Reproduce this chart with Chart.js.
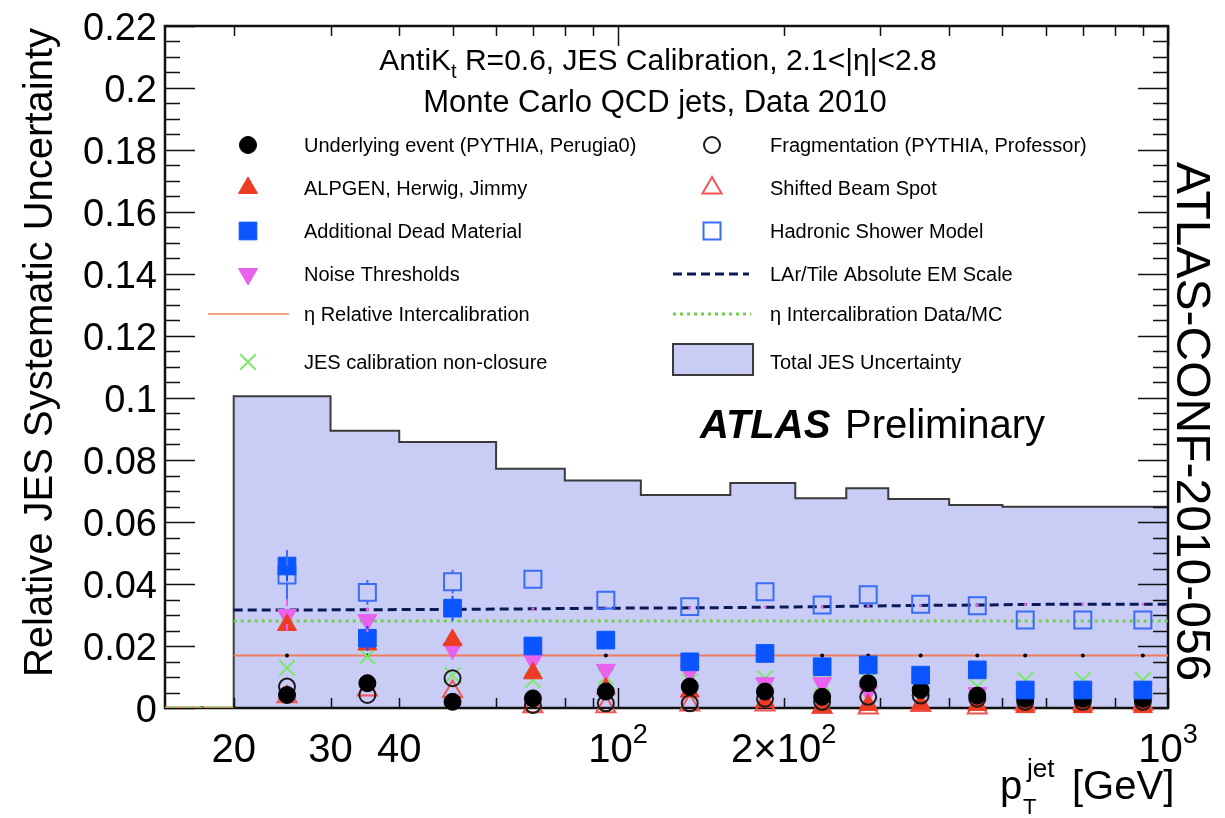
<!DOCTYPE html>
<html>
<head>
<meta charset="utf-8">
<title>Relative JES Systematic Uncertainty</title>
<script src="https://cdn.jsdelivr.net/npm/chart.js@4.4.1/dist/chart.umd.min.js"></script>
<style>
  html, body { margin: 0; padding: 0; background: #fff; }
  #wrap { width: 1225px; height: 818px; }
</style>
</head>
<body>
<div id="wrap"><canvas id="jes" width="1225" height="818"></canvas></div>
<script>
// values (2.1 < |eta| < 2.8, R=0.6)
const ptBins = [25, 35, 50, 70, 95, 135, 185, 235, 285, 355, 450, 550, 700, 900];

const underlyingEvent = [0.0042, 0.0080, 0.0020, 0.0031, 0.0053, 0.0069, 0.0053, 0.0036, 0.0080, 0.0058, 0.0040, 0.0030, 0.0030, 0.0030];
const fragmentation   = [0.0069, 0.0042, 0.0096, 0.0010, 0.0015, 0.0015, 0.0030, 0.0020, 0.0036, 0.0040, 0.0030, 0.0020, 0.0020, 0.0020];
const alpgenHerwig    = [0.0268, 0.0205, 0.0219, 0.0112, 0.0063, 0.0053, 0.0020, 0.0004, 0.0010, 0.0012, 0.0010, 0.0003, 0.0003, 0.0003];
const beamSpot        = [0.0036, 0.0058, 0.0053, 0.0004, 0.0004, 0.0010, 0.0010, 0.0002, 0.0000, 0.0008, 0.0000, 0.0012, 0.0012, 0.0012];
const deadMaterial    = [0.0458, 0.0225, 0.0322, 0.0200, 0.0219, 0.0149, 0.0176, 0.0133, 0.0139, 0.0106, 0.0123, 0.0058, 0.0058, 0.0058];
const hadronicShower  = [0.0429, 0.0373, 0.0407, 0.0415, 0.0348, 0.0327, 0.0375, 0.0332, 0.0365, 0.0335, 0.0330, 0.0284, 0.0284, 0.0284];
const noiseThresholds = [0.0300, 0.0284, 0.0192, 0.0155, 0.0123, 0.0117, 0.0080, 0.0080, 0.0053, 0.0080, 0.0048, 0.0060, 0.0060, 0.0060];
const nonClosure      = [0.0129, 0.0166, 0.0106, 0.0090, 0.0101, 0.0085, 0.0096, 0.0080, 0.0090, 0.0080, 0.0069, 0.0090, 0.0090, 0.0090];
const larTileEM       = [0.0316, 0.0317, 0.0318, 0.0320, 0.0322, 0.0323, 0.0325, 0.0327, 0.0329, 0.0331, 0.0332, 0.0334, 0.0335, 0.0335];
const etaRelInter     = [0.0169, 0.0169, 0.0169, 0.0169, 0.0169, 0.0169, 0.0169, 0.0169, 0.0169, 0.0169, 0.0169, 0.0169, 0.0169, 0.0169];
const etaInterDataMC  = [0.0281, 0.0281, 0.0281, 0.0281, 0.0281, 0.0281, 0.0281, 0.0281, 0.0281, 0.0281, 0.0281, 0.0281, 0.0281, 0.0281];

// statistical error bars that are visible on a few points
const deadMaterialErr   = [0.0050, 0.0040, 0.0040, 0.0010, 0.0010, 0, 0, 0, 0, 0, 0, 0, 0, 0];
const hadronicShowerErr = [0.0080, 0.0040, 0.0038, 0.0010, 0.0010, 0, 0, 0, 0, 0, 0, 0, 0, 0];
const noiseErr          = [0.0050, 0.0040, 0.0030, 0.0020, 0.0010, 0, 0, 0, 0, 0, 0, 0, 0, 0];

// total uncertainty histogram (bin low edges + last upper edge)
const histEdges = [20, 30, 40, 60, 80, 110, 160, 210, 260, 310, 400, 500, 1000];
const totalJES  = [0.1006, 0.0894, 0.0858, 0.0772, 0.0734, 0.0687, 0.0726, 0.0677, 0.0709, 0.0674, 0.0655, 0.0649];

// underflow bin (15-20 GeV) of the eta histograms
const underflowPt = 17.5;
const underflowVal = 0;

// axes
const xMin = 15, xMax = 1000;
const yMin = 0, yMax = 0.22;
const yTickValues = [0, 0.02, 0.04, 0.06, 0.08, 0.1, 0.12, 0.14, 0.16, 0.18, 0.2, 0.22];
const yTickLabels = ['0', '0.02', '0.04', '0.06', '0.08', '0.1', '0.12', '0.14', '0.16', '0.18', '0.2', '0.22'];
const yMinorStep = 0.005;
const xMinorTicks = [20, 30, 40, 50, 60, 70, 80, 90, 200, 300, 400, 500, 600, 700, 800, 900];
const xMajorTicks = [100, 1000];
const xLabelValues = [20, 30, 40, 100, 200, 1000];
const xLabelBase   = ['20', '30', '40', '10', '2×10', '10'];
const xLabelSup    = ['', '', '', '2', '2', '3'];

const legendLeft  = ['Underlying event (PYTHIA, Perugia0)', 'ALPGEN, Herwig, Jimmy', 'Additional Dead Material',
                     'Noise Thresholds', 'η Relative Intercalibration', 'JES calibration non-closure'];
const legendRight = ['Fragmentation (PYTHIA, Professor)', 'Shifted Beam Spot', 'Hadronic Shower Model',
                     'LAr/Tile Absolute EM Scale', 'η Intercalibration Data/MC', 'Total JES Uncertainty'];

const FONT = '"Liberation Sans", Arial, Helvetica, sans-serif';

// colours
const C = {
    fill: '#c9cdf6', histLine: '#3a3a3a',
    red: '#ee3b24', redOpen: '#f25555',
    blue: '#0a55ff', blueOpen: '#3a6cf5',
    magenta: '#e962ee', green: '#7ce86a',
    navy: '#0b1a55', dotGreen: '#6fd04a', orange: '#f07a5a'
};

function pts(values) {
    return ptBins.map((x, i) => ({ x: x, y: values[i] }));
}

function spanLine(values) {
    // lines run across the whole 20-1000 GeV range
    return [{ x: histEdges[0], y: values[0] }].concat(pts(values), [{ x: xMax, y: values[values.length - 1] }]);
}

function withUnderflow(values) {
    return [{ x: xMin, y: underflowVal }, { x: underflowPt, y: underflowVal }, { x: histEdges[0], y: underflowVal },
            { x: histEdges[0], y: null }].concat(spanLine(values));
}

function histData() {
    const d = [{ x: histEdges[0], y: 0 }];
    totalJES.forEach((v, i) => d.push({ x: histEdges[i], y: v }));
    d.push({ x: histEdges[histEdges.length - 1], y: totalJES[totalJES.length - 1] });
    return d;
}

const dotAtBins = (r) => (ctx) => {
    const raw = ctx.raw;
    if (!raw) return 0;
    return (ptBins.includes(raw.x) || raw.x === underflowPt) ? r : 0;
};

function marker(label, values, style, errors) {
    return Object.assign({
        label: label,
        data: pts(values),
        showLine: false,
        clip: false,
        order: 0,
        errorBars: errors || null
    }, style);
}

const markerStyles = {
    ue:     { pointStyle: 'circle',   pointRadius: 8.5, backgroundColor: '#000', borderColor: '#000', borderWidth: 1 },
    frag:   { pointStyle: 'circle',   pointRadius: 8,   backgroundColor: 'rgba(0,0,0,0)', borderColor: '#1a1a1a', borderWidth: 2 },
    alpgen: { pointStyle: 'triangle', pointRadius: 11,  backgroundColor: C.red, borderColor: C.red, borderWidth: 1 },
    beam:   { pointStyle: 'triangle', pointRadius: 11,  backgroundColor: 'rgba(0,0,0,0)', borderColor: C.redOpen, borderWidth: 2 },
    dead:   { pointStyle: 'rect',     pointRadius: 12.5, backgroundColor: C.blue, borderColor: C.blue, borderWidth: 1 },
    had:    { pointStyle: 'rect',     pointRadius: 12,  backgroundColor: 'rgba(0,0,0,0)', borderColor: C.blueOpen, borderWidth: 2 },
    noise:  { pointStyle: 'triangle', pointRadius: 11,  pointRotation: 180, backgroundColor: C.magenta, borderColor: C.magenta, borderWidth: 1 },
    nonclo: { pointStyle: 'crossRot', pointRadius: 11,  backgroundColor: C.green, borderColor: C.green, borderWidth: 2 }
};

const datasets = [
    {
        label: 'Total JES Uncertainty',
        data: histData(),
        showLine: true,
        stepped: 'before',
        fill: 'origin',
        backgroundColor: C.fill,
        borderColor: C.histLine,
        borderWidth: 2,
        pointRadius: 0,
        order: 10
    },
    {
        label: 'LAr/Tile Absolute EM Scale',
        data: spanLine(larTileEM),
        showLine: true,
        borderColor: C.navy,
        borderWidth: 3,
        borderDash: [9, 5],
        pointRadius: dotAtBins(1.5),
        pointBackgroundColor: C.magenta,
        pointBorderWidth: 0,
        order: 5
    },
    {
        label: 'η Intercalibration Data/MC',
        data: withUnderflow(etaInterDataMC),
        showLine: true,
        spanGaps: false,
        borderColor: C.dotGreen,
        borderWidth: 3,
        borderDash: [3, 4],
        pointRadius: 0,
        order: 5
    },
    {
        label: 'η Relative Intercalibration',
        data: withUnderflow(etaRelInter),
        showLine: true,
        spanGaps: false,
        borderColor: C.orange,
        borderWidth: 2,
        pointRadius: dotAtBins(2),
        pointBackgroundColor: '#000',
        pointBorderWidth: 0,
        order: 5
    },
    marker('Additional Dead Material', deadMaterial, markerStyles.dead, deadMaterialErr),
    marker('Hadronic Shower Model', hadronicShower, markerStyles.had, hadronicShowerErr),
    marker('Underlying event (PYTHIA, Perugia0)', underlyingEvent, markerStyles.ue),
    marker('Fragmentation (PYTHIA, Professor)', fragmentation, markerStyles.frag),
    marker('ALPGEN, Herwig, Jimmy', alpgenHerwig, markerStyles.alpgen),
    marker('Shifted Beam Spot', beamSpot, markerStyles.beam),
    marker('Noise Thresholds', noiseThresholds, markerStyles.noise, noiseErr),
    marker('JES calibration non-closure', nonClosure, markerStyles.nonclo)
];

// ---------- drawing helpers ----------
function drawMarker(ctx, st, x, y) {
    ctx.save();
    ctx.fillStyle = st.backgroundColor;
    ctx.strokeStyle = st.borderColor;
    ctx.lineWidth = st.borderWidth;
    Chart.helpers.drawPoint(ctx, {
        pointStyle: st.pointStyle,
        radius: st.pointRadius,
        rotation: st.pointRotation || 0,
        borderWidth: st.borderWidth
    }, x, y);
    ctx.restore();
}

// draws a run of [text, kind] pieces; kind: n normal, sup, sub
function drawRich(ctx, pieces, x, y, size, align) {
    const widths = pieces.map(([s, k]) => {
        ctx.font = (k === 'n' ? size : Math.round(size * 0.68)) + 'px ' + FONT;
        return ctx.measureText(s).width;
    });
    const total = widths.reduce((a, b) => a + b, 0);
    let cx = align === 'center' ? x - total / 2 : (align === 'right' ? x - total : x);
    ctx.textAlign = 'left';
    ctx.textBaseline = 'alphabetic';
    pieces.forEach(([s, k], i) => {
        ctx.font = (k === 'n' ? size : Math.round(size * 0.68)) + 'px ' + FONT;
        let dy = 0;
        if (k === 'sup') dy = -size * 0.48;
        if (k === 'sub') dy = size * 0.28;
        ctx.fillText(s, cx, y + dy);
        cx += widths[i];
    });
}

const atlasPlugin = {
    id: 'atlasFrame',
    afterDatasetDraw(chart, args) {
        // frame and ticks go right on top of the filled histogram
        if (args.index !== 0) return;
        const { ctx, chartArea: a, scales: { x, y } } = chart;
        ctx.save();
        ctx.strokeStyle = '#111';
        ctx.lineWidth = 1.5;
        ctx.beginPath();
        for (let v = yMin; v <= yMax + 1e-9; v += yMinorStep) {
            const major = Math.abs(v / 0.02 - Math.round(v / 0.02)) < 1e-6;
            const len = major ? 30 : 15;
            const py = Math.round(y.getPixelForValue(v)) + 0.5;
            ctx.moveTo(a.left, py); ctx.lineTo(a.left + len, py);
            ctx.moveTo(a.right, py); ctx.lineTo(a.right - len, py);
        }
        const xt = (v, len) => {
            const px = Math.round(x.getPixelForValue(v)) + 0.5;
            ctx.moveTo(px, a.bottom); ctx.lineTo(px, a.bottom - len);
            ctx.moveTo(px, a.top); ctx.lineTo(px, a.top + len);
        };
        xMinorTicks.forEach(v => xt(v, 10));
        xMajorTicks.forEach(v => xt(v, 20));
        ctx.stroke();
        ctx.lineWidth = 2.5;
        ctx.strokeRect(a.left, a.top, a.right - a.left, a.bottom - a.top);
        ctx.restore();
    },
    afterDatasetsDraw(chart) {
        // error bars, drawn outside the marker body like ROOT does
        const ctx = chart.ctx;
        chart.data.datasets.forEach((ds, di) => {
            if (!ds.errorBars) return;
            const meta = chart.getDatasetMeta(di);
            const ys = chart.scales.y;
            ctx.save();
            ctx.strokeStyle = ds.borderColor;
            ctx.lineWidth = 2;
            ctx.beginPath();
            meta.data.forEach((el, i) => {
                const e = ds.errorBars[i];
                if (!e) return;
                const v = ds.data[i].y;
                const top = ys.getPixelForValue(v + e);
                const bot = ys.getPixelForValue(Math.max(0, v - e));
                const r = 9;
                if (el.y - r > top) { ctx.moveTo(el.x, el.y - r); ctx.lineTo(el.x, top); }
                if (el.y + r < bot) { ctx.moveTo(el.x, el.y + r); ctx.lineTo(el.x, bot); }
            });
            ctx.stroke();
            ctx.restore();
        });
    },
    afterDraw(chart) {
        const { ctx, chartArea: a, scales: { x, y } } = chart;
        ctx.save();
        ctx.fillStyle = '#000';

        // y tick labels
        ctx.font = '38px ' + FONT;
        ctx.textAlign = 'right';
        ctx.textBaseline = 'alphabetic';
        yTickValues.forEach((v, i) => {
            ctx.fillText(yTickLabels[i], a.left - 8, y.getPixelForValue(v) + 13.5);
        });

        // x tick labels
        xLabelValues.forEach((v, i) => {
            const pieces = [[xLabelBase[i], 'n']];
            if (xLabelSup[i]) pieces.push([xLabelSup[i], 'sup']);
            drawRich(ctx, pieces, x.getPixelForValue(v), 762, 40, 'center');
        });

        // x axis title: p_T^jet [GeV]
        ctx.textAlign = 'left';
        ctx.font = '40px ' + FONT;
        ctx.fillText('p', 1000, 799);
        ctx.font = '22px ' + FONT;
        ctx.fillText('T', 1023, 814);
        ctx.font = '26px ' + FONT;
        ctx.fillText('jet', 1027, 777);
        ctx.font = '40px ' + FONT;
        ctx.fillText('[GeV]', 1072, 799);

        ctx.save();
        ctx.translate(52, 28);
        ctx.rotate(-Math.PI / 2);
        ctx.font = '40px ' + FONT;
        ctx.textAlign = 'right';
        ctx.fillText('Relative JES Systematic Uncertainty', 0, 0);
        ctx.restore();

        ctx.save();
        ctx.translate(1177, 162);
        ctx.rotate(Math.PI / 2);
        ctx.font = '48px ' + FONT;
        ctx.textAlign = 'left';
        ctx.fillText('ATLAS-CONF-2010-056', 0, 0);
        ctx.restore();

        // header
        drawRich(ctx, [['AntiK', 'n'], ['t', 'sub'], [' R=0.6, JES Calibration, 2.1<|η|<2.8', 'n']], 658, 70, 30, 'center');
        drawRich(ctx, [['Monte Carlo QCD jets, Data 2010', 'n']], 655, 112, 31, 'center');

        // ATLAS Preliminary
        ctx.textAlign = 'left';
        ctx.font = 'italic bold 40px ' + FONT;
        ctx.fillText('ATLAS', 700, 438);
        ctx.font = '40px ' + FONT;
        ctx.fillText('Preliminary', 845, 438);

        // legend
        const rows = [145, 188, 231, 274, 314, 362];
        const leftStyles = [markerStyles.ue, markerStyles.alpgen, markerStyles.dead, markerStyles.noise, null, markerStyles.nonclo];
        const rightStyles = [markerStyles.frag, markerStyles.beam, markerStyles.had, null, null, null];
        rows.forEach((ry, i) => {
            ctx.fillStyle = '#000';
            ctx.textAlign = 'left';
            ctx.font = '20px ' + FONT;
            ctx.fillText(legendLeft[i], 304, ry + 7);
            ctx.fillText(legendRight[i], 770, ry + 7);
            if (leftStyles[i]) drawMarker(ctx, leftStyles[i], 248, ry);
            if (rightStyles[i]) drawMarker(ctx, rightStyles[i], 712, ry);
        });
        // line samples
        ctx.lineWidth = 2;
        ctx.strokeStyle = '#f4a184';
        ctx.beginPath(); ctx.moveTo(208, rows[4]); ctx.lineTo(289, rows[4]); ctx.stroke();
        ctx.lineWidth = 3;
        ctx.strokeStyle = C.navy;
        ctx.setLineDash([9, 5]);
        ctx.beginPath(); ctx.moveTo(673, rows[3]); ctx.lineTo(749, rows[3]); ctx.stroke();
        ctx.strokeStyle = C.dotGreen;
        ctx.setLineDash([3, 4]);
        ctx.beginPath(); ctx.moveTo(673, rows[4]); ctx.lineTo(751, rows[4]); ctx.stroke();
        ctx.setLineDash([]);
        ctx.fillStyle = C.fill;
        ctx.fillRect(673, 344, 80, 31);
        ctx.strokeStyle = C.histLine;
        ctx.lineWidth = 2;
        ctx.strokeRect(673, 344, 80, 31);

        ctx.restore();
    }
};

new Chart(document.getElementById('jes'), {
    type: 'scatter',
    data: { datasets: datasets },
    options: {
        responsive: false,
        animation: false,
        devicePixelRatio: 1,
        layout: { padding: { left: 165, top: 26, right: 57, bottom: 110 } },
        elements: { line: { tension: 0 } },
        scales: {
            x: { type: 'logarithmic', min: xMin, max: xMax, display: false },
            y: { type: 'linear', min: yMin, max: yMax, display: false }
        },
        plugins: {
            legend: { display: false },
            tooltip: { enabled: false },
            title: { display: false }
        }
    },
    plugins: [atlasPlugin]
});
</script>
</body>
</html>
